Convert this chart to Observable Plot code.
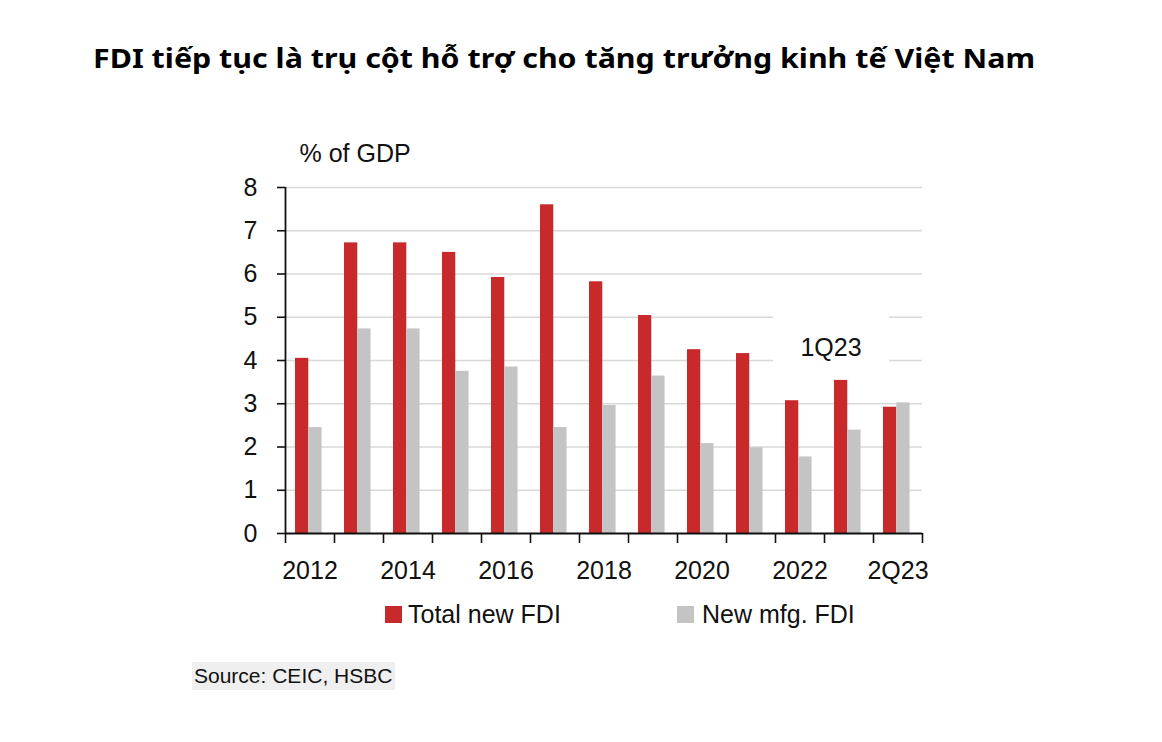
<!DOCTYPE html>
<html>
<head>
<meta charset="utf-8">
<script src="https://cdn.jsdelivr.net/npm/d3@7"></script>
<script src="https://cdn.jsdelivr.net/npm/@observablehq/plot@0.6"></script>
<style>
  body { margin: 0; background: #fff; }
  #wrap { position: relative; width: 1162px; height: 742px; overflow: hidden; background: #fff;
          font-family: "Liberation Sans", Arial, sans-serif; color: #111; }
  #title { position: absolute; left: 93px; top: 45px; font-family: "Noto Sans", sans-serif; font-weight: 700;
           font-size: 26px; line-height: 26px; white-space: nowrap; transform-origin: 0 0; color: #000; }
  #chart { position: absolute; left: 0; top: 110px; }
  .sw { position: absolute; top: 606px; width: 17px; height: 17px; }
  .lt { position: absolute; top: 602px; font-size: 25px; line-height: 25px; white-space: nowrap; }
  #source { position: absolute; left: 192px; top: 662px; height: 28px; line-height: 28px; font-size: 21px;
            padding: 0 3px 0 2px; background: #efefef; white-space: nowrap; }
</style>
</head>
<body>
<div id="wrap">
  <div id="title"></div>
  <div id="chart"></div>
  <div id="legend"></div>
  <div id="source"></div>
</div>
<script>
const titleText = "FDI tiếp tục là trụ cột hỗ trợ cho tăng trưởng kinh tế Việt Nam";
const yLabel = "% of GDP";
const sourceText = "Source: CEIC, HSBC";
const annotation = "1Q23";

const categories = ["2012", "2013", "2014", "2015", "2016", "2017", "2018", "2019", "2020", "2021", "2022", "1Q23", "2Q23"];
const totalFDI = [4.05, 6.72, 6.72, 6.5, 5.92, 7.6, 5.82, 5.04, 4.25, 4.16, 3.07, 3.54, 2.92];
const mfgFDI   = [2.45, 4.73, 4.73, 3.75, 3.85, 2.45, 2.96, 3.64, 2.08, 1.98, 1.77, 2.39, 3.02];
const seriesNames = ["Total new FDI", "New mfg. FDI"];
const seriesColors = ["#C8292A", "#C4C4C4"];
const xTickLabels = ["2012", "2014", "2016", "2018", "2020", "2022", "2Q23"];
const yTicks = [0, 1, 2, 3, 4, 5, 6, 7, 8];

const rowsTotal = categories.map((c, i) => ({cat: c, value: totalFDI[i]}));
const rowsMfg = categories.map((c, i) => ({cat: c, value: mfgFDI[i]}));

const marginLeft = 285, marginRight = 240, width = 1162;
const bw = (width - marginLeft - marginRight) / categories.length;

const chart = Plot.plot({
  width,
  height: 480,
  marginLeft,
  marginRight,
  marginTop: 77,
  marginBottom: 57,
  style: {fontFamily: '"Liberation Sans", Arial, sans-serif', fontSize: "25px", color: "#111", background: "#fff"},
  x: {type: "band", domain: categories, padding: 0, axis: null, label: null},
  y: {domain: [0, 8], axis: null, label: null},
  marks: [
    Plot.ruleY(yTicks.filter(d => d > 0), {stroke: "#d9d9d9", strokeWidth: 1.6}),
    Plot.barY([annotation], {x: () => annotation, y1: () => 3.65, y2: () => 5.4, fill: "#fff", insetLeft: -51, insetRight: -16}),
    Plot.text([annotation], {x: () => annotation, y: () => 4.3, text: d => d, dx: -18, fill: "#111"}),
    Plot.barY(rowsTotal, {x: "cat", y: "value", fill: seriesColors[0], insetLeft: bw * 0.204, insetRight: bw * 0.525}),
    Plot.barY(rowsMfg, {x: "cat", y: "value", fill: seriesColors[1], insetLeft: bw * 0.475, insetRight: bw * 0.254}),
    Plot.ruleY([0], {stroke: "#111", strokeWidth: 1.8}),
    Plot.ruleX([categories[0]], {y1: () => 0, y2: () => 8, dx: -bw / 2, stroke: "#111", strokeWidth: 1.8}),
    Plot.ruleX(categories, {y1: () => 0, y2: () => 0, insetBottom: -10, dx: -bw / 2, stroke: "#111", strokeWidth: 1.6}),
    Plot.ruleX([categories[categories.length - 1]], {y1: () => 0, y2: () => 0, insetBottom: -10, dx: bw / 2, stroke: "#111", strokeWidth: 1.6}),
    Plot.axisY({ticks: yTicks, tickSize: 8, tickPadding: 20, stroke: "#111", strokeWidth: 1.6, label: null, fill: "#111"}),
    Plot.axisX({ticks: xTickLabels, tickSize: 0, tickPadding: 28, label: null, fill: "#111"}),
    Plot.text([yLabel], {frameAnchor: "top-left", text: d => d, textAnchor: "start", lineAnchor: "middle", dx: 14, dy: -34, fill: "#111"})
  ]
});
document.getElementById("chart").appendChild(chart);

// Title
const t = document.getElementById("title");
t.textContent = titleText;
const tw = t.getBoundingClientRect().width;
t.style.transform = `scaleX(${942 / tw})`;

// Legend
const legend = document.getElementById("legend");
const swLeft = [385, 677], txtLeft = [408, 702];
seriesNames.forEach((name, i) => {
  const sw = document.createElement("div");
  sw.className = "sw"; sw.style.left = swLeft[i] + "px"; sw.style.background = seriesColors[i];
  legend.appendChild(sw);
  const lt = document.createElement("div");
  lt.className = "lt"; lt.style.left = txtLeft[i] + "px"; lt.textContent = name;
  legend.appendChild(lt);
});

document.getElementById("source").textContent = sourceText;
</script>
</body>
</html>
